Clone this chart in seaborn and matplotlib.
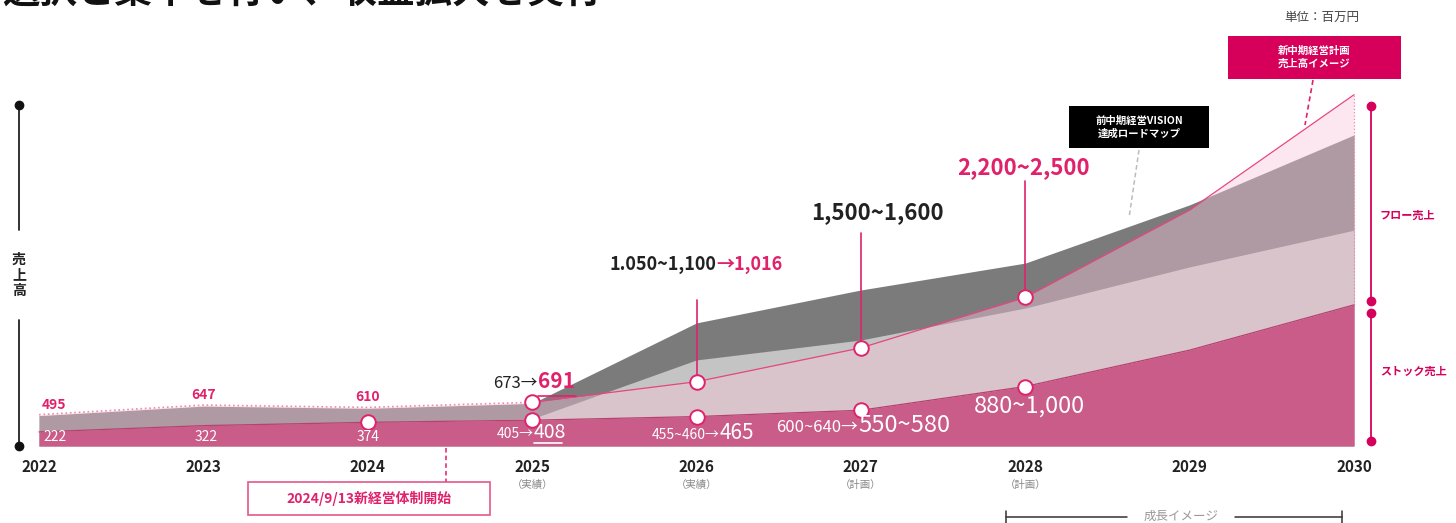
import numpy as np
import matplotlib
matplotlib.use('Agg')
import matplotlib.pyplot as plt
import matplotlib.transforms as mtransforms
from matplotlib.patches import Rectangle
import seaborn as sns

# values in million yen
years = [2022, 2023, 2024, 2025, 2026, 2027, 2028, 2029, 2030]
plan_total = [495, 647, 610, 691, 1016, 1550, 2350, 3730, 5550]     # new plan (pink line)
vision_total = [480, 630, 595, 673, 1945, 2465, 2890, 3810, 4915]   # previous VISION roadmap
flow_mid = [222, 322, 374, 430, 1360, 1675, 2180, 2830, 3410]       # light gray band top
stock = [222, 322, 374, 408, 465, 565, 940, 1515, 2230]             # stock sales

year_labels = ['2022', '2023', '2024', '2025', '2026', '2027', '2028', '2029', '2030']
year_notes = ['', '', '', '（実績）', '（実績）', '（計画）', '（計画）', '', '']
plan_marker_years = [2025, 2026, 2027, 2028]
stock_marker_years = [2024, 2025, 2026, 2027, 2028]

W, H = 1456, 523
PINK = '#e0226c'
DEEP = '#d6005b'
STOCK = '#c95c88'

sns.set_style('white')
plt.rcParams['font.family'] = ['Noto Sans CJK JP', 'DejaVu Sans']

fig = plt.figure(figsize=(W / 100, H / 100), dpi=100)
ax = fig.add_axes([0, 0, 1, 1])
ax.set_axis_off()

# pixel layout: 2022 at x=39, 2030 at x=1354, zero at y=446, 15.8 units per px
ppy = (1354 - 39) / 8
ax.set_xlim(2022 - 39 / ppy, 2022 + (W - 39) / ppy)
upp = 15.8
ax.set_ylim(-(H - 446) * upp, 446 * upp)


def P(x, y):
    return x / W, 1 - y / H


ta = ax.transAxes
bl = mtransforms.blended_transform_factory(ax.transData, ax.transAxes)

# areas
ax.fill_between(years, 0, vision_total, color='#7b7b7b', lw=0, zorder=1)
ax.fill_between(years, 0, flow_mid, color='#c4c4c4', lw=0, zorder=2)
ax.fill_between(years, 0, plan_total, color='#f9c4d9', alpha=0.42, lw=0, zorder=3)
sns.lineplot(x=years[:4], y=plan_total[:4], color='#f08ab0', lw=1.2, ls=':', ax=ax, zorder=4)
sns.lineplot(x=years[3:], y=plan_total[3:], color='#e8457f', lw=0.9, ax=ax, zorder=4)
ax.plot([years[-1], years[-1]], [stock[-1], plan_total[-1]], color='#f08ab0', lw=0.9, ls=':', zorder=4)
ax.fill_between(years, 0, stock, color=STOCK, lw=0, zorder=5)
sns.lineplot(x=years, y=stock, color='#b7416f', lw=0.9, ax=ax, zorder=6)

# markers
pm = [plan_total[years.index(y)] for y in plan_marker_years]
sm = [stock[years.index(y)] for y in stock_marker_years]
sns.scatterplot(x=plan_marker_years, y=pm, s=110, color='white', edgecolor=PINK, linewidth=1.4, ax=ax, zorder=8)
sns.scatterplot(x=stock_marker_years, y=sm, s=110, color='white', edgecolor=PINK, linewidth=1.4, ax=ax, zorder=8)

# leader lines to callouts
for yr, top in [(2026, 300), (2027, 233), (2028, 181)]:
    v = plan_total[years.index(yr)]
    ax.plot([yr, yr], [v, (446 - top) * upp], color=PINK, lw=1.2, zorder=7)

# year labels
for yr, lab, note in zip(years, year_labels, year_notes):
    ax.text(yr, 1 - 467 / H, lab, transform=bl, ha='center', va='center',
            fontsize=11, fontweight='bold', color='#222222')
    if note:
        ax.text(yr, 1 - 485 / H, note, transform=bl, ha='center', va='center',
                fontsize=7.5, color='#888888')

# small value labels 2022-2024
for yr, v, dx in zip(years[:3], plan_total[:3], [0.09, 0.0, 0.0]):
    ax.text(yr + dx, v + 3 * upp, str(v), ha='center', va='bottom', fontsize=10,
            fontweight='bold', color=PINK, zorder=9)
for yr, v, dx in zip(years[:3], stock[:3], [0.1, 0.02, 0.0]):
    ax.text(yr + dx, 1 - 437 / H, str(v), transform=bl, ha='center', va='center',
            fontsize=10, color='white', zorder=9)

# 2025
ax.text(*P(538, 383), '673→', transform=ta, ha='right', va='center', fontsize=12, color='#222222', zorder=9)
ax.text(*P(538, 382), '691', transform=ta, ha='left', va='center', fontsize=15, fontweight='bold', color=PINK, zorder=9)
ax.plot([538 / W, 576 / W], [1 - 396 / H] * 2, transform=ta, color=PINK, lw=1.2, zorder=9)
ax.text(*P(534, 434), '405→', transform=ta, ha='right', va='center', fontsize=10, color='white', zorder=9)
ax.text(*P(534, 432), '408', transform=ta, ha='left', va='center', fontsize=14, color='white', zorder=9)
ax.plot([534 / W, 562 / W], [1 - 443 / H] * 2, transform=ta, color='white', lw=1.2, zorder=9)

# 2026
ax.text(*P(720, 435), '455~460→', transform=ta, ha='right', va='center', fontsize=10, color='white', zorder=9)
ax.text(*P(720, 433), '465', transform=ta, ha='left', va='center', fontsize=15, color='white', zorder=9)
ax.text(*P(716, 265), '1.050~1,100', transform=ta, ha='right', va='center', fontsize=13, fontweight='bold', color='#222222', zorder=9)
ax.text(*P(716, 265), '→1,016', transform=ta, ha='left', va='center', fontsize=13, fontweight='bold', color=PINK, zorder=9)

# 2027
ax.text(*P(858, 428), '600~640→', transform=ta, ha='right', va='center', fontsize=12, color='white', zorder=9)
ax.text(*P(858, 426), '550~580', transform=ta, ha='left', va='center', fontsize=17, color='white', zorder=9)
ax.text(*P(877, 213), '1,500~1,600', transform=ta, ha='center', va='center', fontsize=16, fontweight='bold', color='#222222', zorder=9)

# 2028
ax.text(*P(1029, 406), '880~1,000', transform=ta, ha='center', va='center', fontsize=17, color='white', zorder=9)
ax.text(*P(1023, 168), '2,200~2,500', transform=ta, ha='center', va='center', fontsize=16, fontweight='bold', color=PINK, zorder=9)

# left axis
for y0, y1 in [(105, 230), (320, 446)]:
    ax.plot([19 / W] * 2, [1 - y0 / H, 1 - y1 / H], transform=ta, color='#222222', lw=1.3)
ax.plot([19 / W] * 2, [1 - 105 / H, 1 - 446 / H], transform=ta, ls='none', marker='o', ms=6, color='#111111')
ax.text(*P(19, 275), '売\n上\n高', transform=ta, ha='center', va='center', fontsize=10,
        fontweight='bold', color='#222222', linespacing=1.15)

# right brackets
for y0, y1, lab, ly in [(106, 301, 'フロー売上', 215), (313, 441, 'ストック売上', 371)]:
    ax.plot([1371 / W] * 2, [1 - y0 / H, 1 - y1 / H], transform=ta, color=DEEP, lw=1.3, marker='o', ms=6)
    ax.text(*P(1380, ly), lab, transform=ta, ha='left', va='center', fontsize=8, fontweight='bold', color=DEEP)

# top right notes
ax.text(*P(1322, 17), '単位：百万円', transform=ta, ha='center', va='center', fontsize=9, color='#444444')
ax.add_patch(Rectangle(P(1228, 79), 173 / W, 43 / H, transform=ta, facecolor=DEEP, edgecolor='none', zorder=10))
ax.text(*P(1314, 57), '新中期経営計画\n売上高イメージ', transform=ta, ha='center', va='center', fontsize=7.5,
        fontweight='bold', color='white', linespacing=1.35, zorder=11)
ax.plot([1313 / W, 1305 / W], [1 - 80 / H, 1 - 125 / H], transform=ta, color=PINK, lw=1.2, ls=(0, (3, 2)), zorder=10)

ax.add_patch(Rectangle(P(1069, 148), 140 / W, 42 / H, transform=ta, facecolor='black', edgecolor='none', zorder=10))
ax.text(*P(1139, 127), '前中期経営VISION\n達成ロードマップ', transform=ta, ha='center', va='center', fontsize=7.5,
        fontweight='bold', color='white', linespacing=1.3, zorder=11)
ax.plot([1139 / W, 1129 / W], [1 - 150 / H, 1 - 218 / H], transform=ta, color='#bbbbbb', lw=1.1, ls=(0, (3, 2)), zorder=10)

# bottom notes
ax.plot([446 / W] * 2, [1 - 448 / H, 1 - 482 / H], transform=ta, color=PINK, lw=1.1, ls=(0, (3, 2)))
ax.add_patch(Rectangle(P(248, 515), 242 / W, 33 / H, transform=ta, facecolor='white', edgecolor='#e4578b', lw=1.2, zorder=10))
ax.text(*P(369, 498), '2024/9/13新経営体制開始', transform=ta, ha='center', va='center', fontsize=10,
        fontweight='bold', color=PINK, zorder=11)

for x0, x1 in [(1006, 1127), (1235, 1342)]:
    ax.plot([x0 / W, x1 / W], [1 - 517 / H] * 2, transform=ta, color='#333333', lw=1.1)
for x in [1006, 1342]:
    ax.plot([x / W] * 2, [1 - 511 / H, 1 - 523 / H], transform=ta, color='#333333', lw=1.1)
ax.text(*P(1181, 516), '成長イメージ', transform=ta, ha='center', va='center', fontsize=9, color='#999999')

# heading (cut off at the top in the reference)
ax.text(*P(2, 3), '選択と集中を行い、収益拡大を実行', transform=ta, ha='left', va='baseline',
        fontsize=27, fontweight='bold', color='#111111')

fig.savefig('out.png', dpi=100)
